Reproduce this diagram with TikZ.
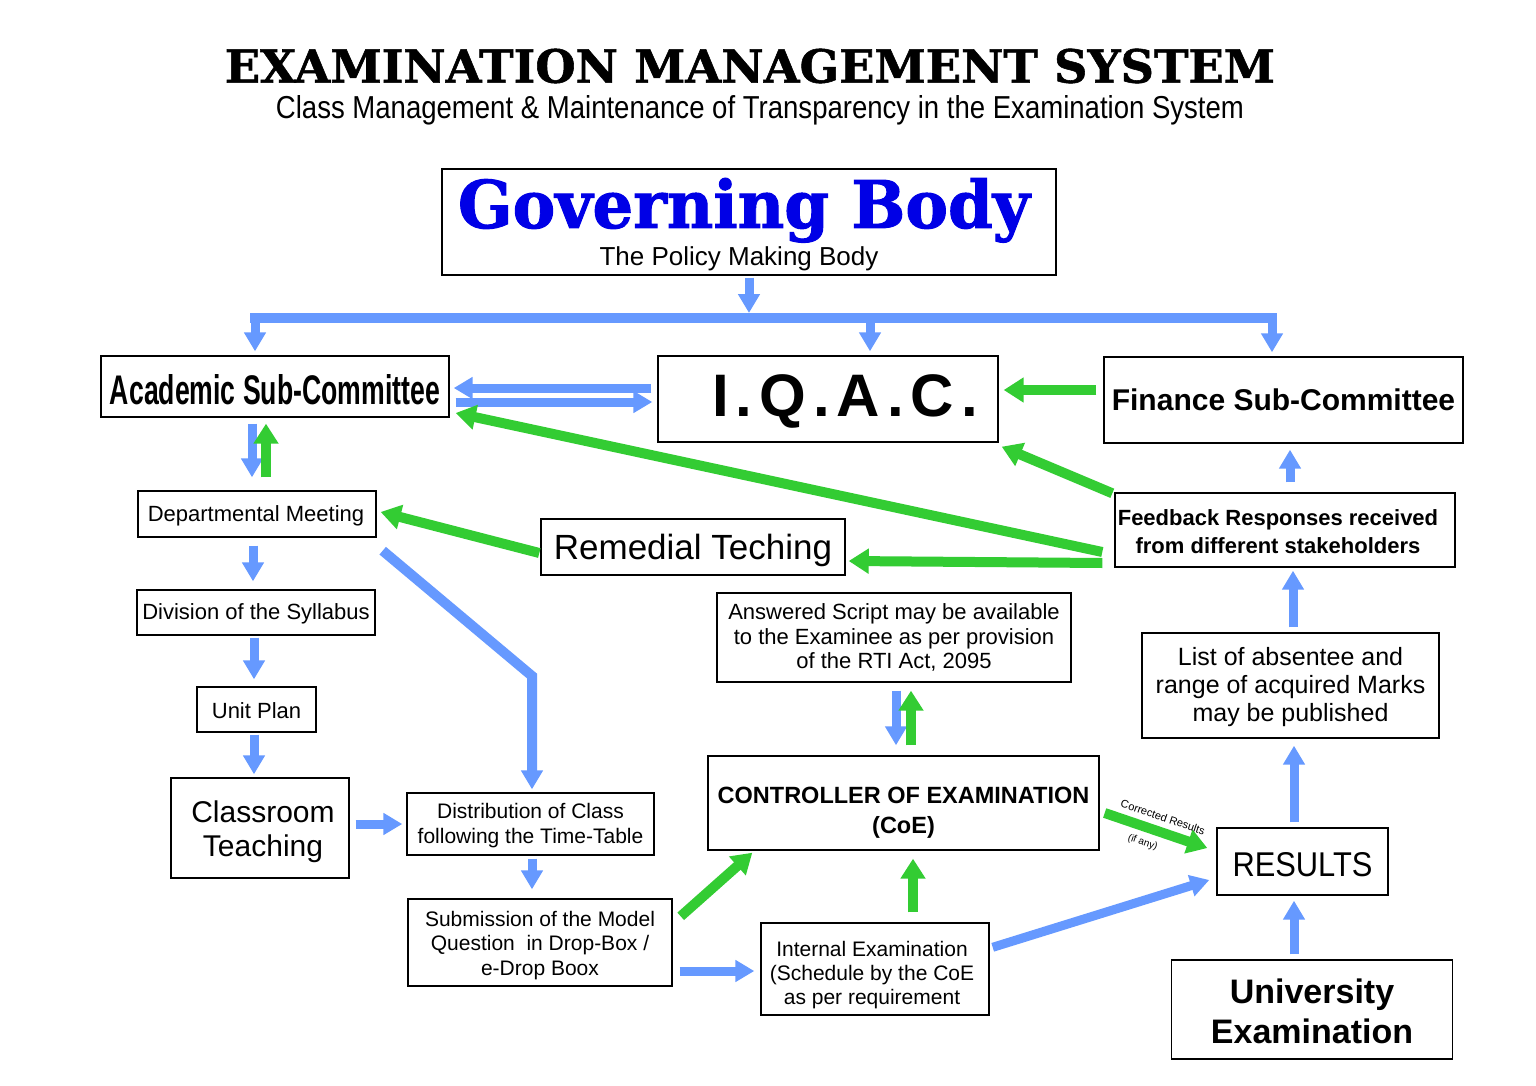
\documentclass[tikz,border=0pt]{standalone}
\usepackage{fontspec}
\setmainfont{Liberation Sans}
\newfontfamily\slabfont{DejaVu Serif}
\usetikzlibrary{arrows.meta,calc}
\definecolor{ablue}{RGB}{102,153,255}
\definecolor{agreen}{RGB}{51,204,51}
\definecolor{gbblue}{RGB}{0,0,230}
\newcommand\fsz[2]{\fontsize{#1}{#2}\selectfont}
\newcommand\iqsp{\kern7pt}
\tikzset{
  box/.style={draw=black, line width=1.4pt, inner sep=0pt, align=center, fill=white},
  plain/.style={inner sep=0pt},
  txt/.style={inner sep=0pt, align=center},
  barrow/.style={draw=ablue, line width=9pt, -{Triangle[length=19pt,width=21pt]}},
  garrow/.style={draw=agreen, line width=10pt, -{Triangle[length=20pt,width=24pt]}},
  bline/.style={draw=ablue, line width=10pt},
}
\begin{document}
\begin{tikzpicture}[x=1pt,y=-1pt]
\useasboundingbox[fill=white] (0,0) rectangle (1536,1086);

% titles
\node[plain] (title) at (750,66) {\resizebox{1050pt}{34pt}{\slabfont\bfseries\addfontfeature{FakeBold=1.2}EXAMINATION MANAGEMENT SYSTEM}};
\node[plain, anchor=base] (subtitle) at (760,119) {\resizebox{968pt}{23pt}{Class Management \& Maintenance of Transparency in the Examination System}};

% boxes
\node[box, minimum width=614pt, minimum height=106pt] (gb) at (749,222) {};
\node[plain, anchor=base] (gbname) at (744,228) {\resizebox{572pt}{50pt}{\slabfont\bfseries\addfontfeature{FakeBold=1.5}\color{gbblue}Governing Body}};
\node[plain, anchor=base, font=\fsz{26}{30}] (gbsub) at (739,265) {The Policy Making Body};

\node[box, minimum width=348pt, minimum height=61pt] (aca) at (275,386.5) {};
\node[txt] (acaT) at ($(aca)+(0,3.5)$) {\resizebox{330pt}{30pt}{\bfseries Academic Sub-Committee}};

\node[box, minimum width=340pt, minimum height=86pt] (iqac) at (828,399) {};
\node[txt, font=\fsz{60}{70}\bfseries] (iqacT) at ($(iqac)+(17,2)$) {I\iqsp.\iqsp Q\iqsp.\iqsp A\iqsp.\iqsp C\iqsp.};

\node[box, minimum width=359pt, minimum height=86pt, font=\fsz{30}{34}\bfseries] (fin) at (1283.5,400) {Finance Sub-Committee};

\node[box, minimum width=340pt, minimum height=74pt] (feed) at (1285,530) {};
\node[txt, font=\fsz{22}{28}\bfseries] (feedT) at ($(feed)+(-7,2)$) {Feedback Responses received\\from different stakeholders};

\node[box, minimum width=238pt, minimum height=46pt] (dept) at (257,514) {};
\node[txt, font=\fsz{22}{26}] (deptT) at ($(dept)+(-1,2)$) {Departmental Meeting};

\node[box, minimum width=304pt, minimum height=56pt] (rem) at (693,547) {};
\node[txt, font=\fsz{35}{40}] (remT) at ($(rem)+(0,3)$) {Remedial Teching};

\node[box, minimum width=238pt, minimum height=45pt] (div) at (256,612.5) {};
\node[txt, font=\fsz{22}{26}] (divT) at ($(div)+(0,1)$) {Division of the Syllabus};

\node[box, minimum width=119pt, minimum height=45pt] (unit) at (256.5,709.5) {};
\node[txt, font=\fsz{22}{26}] (unitT) at ($(unit)+(0,1)$) {Unit Plan};

\node[box, minimum width=178pt, minimum height=100pt] (cls) at (260,828) {};
\node[txt, font=\fsz{30}{34}] (clsT) at ($(cls)+(3,4)$) {Classroom\\Teaching};

\node[box, minimum width=247pt, minimum height=62pt] (dist) at (530.5,824) {};
\node[txt, font=\fsz{21}{25}] (distT) at ($(dist)+(0,2)$) {Distribution of Class\\following the Time-Table};

\node[box, minimum width=264pt, minimum height=87pt] (sub) at (540,942.5) {};
\node[txt, font=\fsz{21}{24.5}] (subT) at ($(sub)+(0,3)$) {Submission of the Model\\Question\ \ in Drop-Box /\\e-Drop Boox};

\node[box, minimum width=228pt, minimum height=92pt] (int) at (875,969) {};
\node[txt, font=\fsz{21}{24}] (intT) at ($(int)+(-3,6)$) {Internal Examination\\(Schedule by the CoE\\as per requirement};

\node[box, minimum width=391pt, minimum height=94pt] (coe) at (903.5,803) {};
\node[txt, font=\fsz{23.5}{30}\bfseries] (coeT) at ($(coe)+(0,10)$) {CONTROLLER OF EXAMINATION\\(CoE)};

\node[box, minimum width=354pt, minimum height=89pt, font=\fsz{22}{24.5}] (ans) at (894,637.5) {Answered Script may be available\\to the Examinee as per provision\\of the RTI Act, 2095};

\node[box, minimum width=297pt, minimum height=105pt] (list) at (1290.5,685.5) {};
\node[txt, font=\fsz{25}{28}] (listT) at ($(list)+(0,2)$) {List of absentee and\\range of acquired Marks\\may be published};

\node[box, minimum width=171pt, minimum height=67pt] (res) at (1302.5,861.5) {};
\node[txt] (resT) at ($(res)+(0,3.5)$) {\resizebox{140pt}{24pt}{RESULTS}};

\node[box, minimum width=281pt, minimum height=99pt] (uni) at (1312,1009.5) {};
\node[txt, font=\fsz{34}{40}\bfseries] (uniT) at ($(uni)+(0,1.5)$) {University\\Examination};

% distribution bus from the Governing Body
\coordinate (busL) at (255,318);
\coordinate (busM) at (749,318);
\coordinate (busI) at (870,318);
\coordinate (busR) at (1272,318);
\draw[bline] ($(busL)+(-5,0)$) -- ($(busR)+(5,0)$);
\draw[barrow, shorten <=2pt, shorten >=5pt] (gb.south) -- (busM);
\draw[barrow, shorten >=4pt] (busL) -- (busL |- aca.north);
\draw[barrow, shorten >=4pt] (busI) -- (busI |- iqac.north);
\draw[barrow, shorten >=4pt] (busR) -- (busR |- fin.north);

% top row
\draw[barrow] ($(iqac.west)+(-6,-11)$) -- ($(aca.east)+(4,1.5)$);
\draw[barrow] ($(aca.east)+(6,15.5)$) -- ($(iqac.west)+(-5,3)$);
\draw[garrow] ($(fin.west)+(-7,-10)$) -- ($(iqac.east)+(5,-9)$);
\draw[garrow] ($(feed.north west)+(-2,1)$) -- ($(iqac.south east)+(3,4)$);
\draw[garrow] ($(feed.west)+(-12,22)$) -- ($(aca.east)+(6,26.5)$);
\draw[garrow] ($(feed.west)+(-12,33)$) -- ($(rem.east)+(3,14)$);
\draw[garrow] ($(rem.west)+(-1,6)$) -- ($(dept.east)+(4,-2)$);

% left column
\draw[barrow] ($(aca.south)+(-23,6)$) -- ($(dept.north)+(-5,-13)$);
\draw[garrow] ($(dept.north)+(9,-13)$) -- ($(aca.south)+(-9,6)$);
\draw[barrow] ($(dept.south)+(-4,8)$) -- ($(div.north)+(-3,-8)$);
\draw[barrow] ($(div.south)+(-2,2)$) -- ($(unit.north)+(-2.5,-7)$);
\draw[barrow] ($(unit.south)+(-2.5,2)$) -- ($(cls.north)+(-6,-3)$);
\draw[barrow] ($(cls.east)+(6,-4)$) -- ($(dist.west)+(-4,0)$);
\coordinate (bend) at (532,676);
\draw[barrow, line width=10pt] ($(dept.south east)+(6,13)$) -- (bend) -- ($(dist.north)+(1.5,-3)$);
\draw[barrow] ($(dist.south)+(1.5,3)$) -- ($(sub.north)+(-8,-9)$);

% middle
\draw[garrow] ($(sub.north east)+(8,18)$) -- ($(coe.south west)+(45,2)$);
\draw[barrow] ($(sub.east)+(7,28.5)$) -- ($(int.west)+(-6,2)$);
\draw[garrow] ($(int.north)+(38,-10)$) -- ($(coe.south)+(9.5,8)$);
\draw[barrow] ($(int.north east)+(3,25)$) -- ($(res.west)+(-7,18.5)$);
\draw[barrow] ($(ans.south)+(2,8)$) -- ($(coe.north)+(-7.5,-10)$);
\draw[garrow] ($(coe.north)+(7.5,-10)$) -- ($(ans.south)+(17,8)$);
\draw[garrow] ($(coe.east)+(5,10)$) --
  node[pos=0.52, sloped, above=6pt, inner sep=0pt, font=\fsz{11}{13}, text=black] (corr) {Corrected Results}
  node[pos=0.42, sloped, below=6pt, inner sep=0pt, font=\fsz{10}{12}, text=black] (ifany) {(if any)}
  ($(res.west)+(-9,-13.5)$);

% right column
\draw[barrow] ($(res.north)+(-8.5,-5)$) -- ($(list.south)+(3.5,7)$);
\draw[barrow] ($(uni.north)+(-18,-5)$) -- ($(res.south)+(-8.5,5)$);
\draw[barrow] ($(list.north)+(2.5,-5)$) -- ($(feed.south)+(8,3)$);
\draw[barrow] ($(feed.north)+(5,-10)$) -- ($(fin.south)+(6.5,6)$);
\end{tikzpicture}
\end{document}
